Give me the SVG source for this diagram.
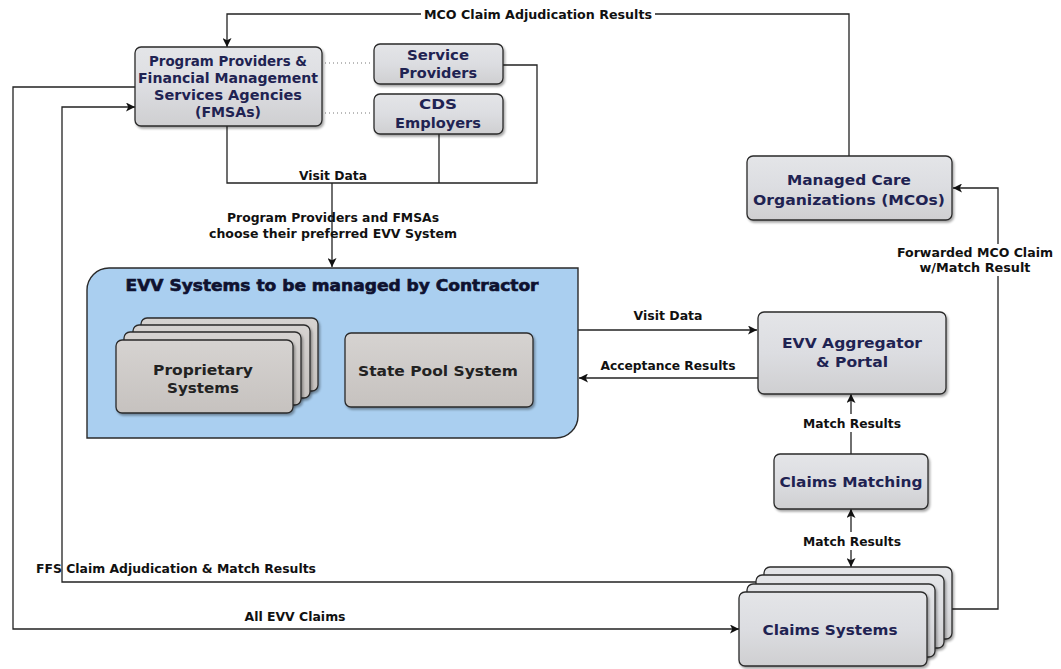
<svg xmlns="http://www.w3.org/2000/svg" width="1061" height="669" viewBox="0 0 1061 669">
<defs>
<linearGradient id="gNode" x1="0" y1="0" x2="0" y2="1">
<stop offset="0" stop-color="#e4e5e8"/>
<stop offset="0.5" stop-color="#dcdde1"/>
<stop offset="1" stop-color="#cfcfd1"/>
</linearGradient>
<linearGradient id="gInner" x1="0" y1="0" x2="0" y2="1">
<stop offset="0" stop-color="#d6d3d1"/>
<stop offset="1" stop-color="#c6c2bf"/>
</linearGradient>
<filter id="sh" x="-10%" y="-10%" width="125%" height="130%">
<feDropShadow dx="1.5" dy="2" stdDeviation="1.2" flood-color="#000" flood-opacity="0.35"/>
</filter>
<marker id="arr" viewBox="0 0 10 10" refX="10" refY="5" markerWidth="10" markerHeight="9" markerUnits="userSpaceOnUse" orient="auto-start-reverse">
<path d="M0,0 L10,5 L0,10 L2.5,5 Z" fill="#111"/>
</marker>
</defs>
<style>
.node{fill:url(#gNode);stroke:#2a2a2a;stroke-width:1.3;filter:url(#sh)}
.inner{fill:url(#gInner);stroke:#2a2a2a;stroke-width:1.3;filter:url(#sh)}
.nt{font-family:"DejaVu Sans","Liberation Sans",sans-serif;font-weight:bold;font-size:14px;fill:#1f2352;text-anchor:middle}
.it{font-family:"DejaVu Sans","Liberation Sans",sans-serif;font-weight:bold;font-size:14px;fill:#222;text-anchor:middle}
.lbl{font-family:"DejaVu Sans","Liberation Sans",sans-serif;font-weight:bold;font-size:12px;fill:#111;text-anchor:middle}
.ln{fill:none;stroke:#222;stroke-width:1.3}
.dot{fill:none;stroke:#777;stroke-width:1;stroke-dasharray:1,3}
.bg{fill:#fff}
</style>
<rect width="1061" height="669" fill="#fff"/>

<g id="connectors">
<path class="ln" d="M849,156 V14 H227 V47" marker-end="url(#arr)"/>
<rect class="bg" x="421" y="5" width="234" height="17"/>
<text class="lbl" x="538" y="19" textLength="228" lengthAdjust="spacingAndGlyphs">MCO Claim Adjudication Results</text>

<path class="ln" d="M135,87 H13 V629 H739" marker-end="url(#arr)"/>
<text class="lbl" x="295" y="621" textLength="101" lengthAdjust="spacingAndGlyphs">All EVV Claims</text>

<path class="ln" d="M756,582 H62 V107 H135" marker-end="url(#arr)"/>
<text class="lbl" x="176" y="573" textLength="280" lengthAdjust="spacingAndGlyphs">FFS Claim Adjudication &amp; Match Results</text>

<path class="dot" d="M325,63 H372 M325,113 H372"/>

<path class="ln" d="M227,126 V183 H537 V65 H503 M439,134 V183"/>
<path class="ln" d="M332,183 V267" marker-end="url(#arr)"/>
<text class="lbl" x="333" y="180" textLength="68" lengthAdjust="spacingAndGlyphs">Visit Data</text>
<text class="lbl" x="333" y="222" textLength="212" lengthAdjust="spacingAndGlyphs">Program Providers and FMSAs</text>
<text class="lbl" x="333" y="238" textLength="248" lengthAdjust="spacingAndGlyphs">choose their preferred EVV System</text>

<path class="ln" d="M578,330 H757" marker-end="url(#arr)"/>
<text class="lbl" x="668" y="320" textLength="69" lengthAdjust="spacingAndGlyphs">Visit Data</text>
<path class="ln" d="M758,378 H579" marker-end="url(#arr)"/>
<text class="lbl" x="668" y="370" textLength="135" lengthAdjust="spacingAndGlyphs">Acceptance Results</text>

<path class="ln" d="M851,454 V394" marker-end="url(#arr)"/>
<rect class="bg" x="801" y="414" width="102" height="18"/>
<text class="lbl" x="852" y="428" textLength="98" lengthAdjust="spacingAndGlyphs">Match Results</text>

<path class="ln" d="M851,509 V567" marker-start="url(#arr)" marker-end="url(#arr)"/>
<rect class="bg" x="801" y="532" width="102" height="18"/>
<text class="lbl" x="852" y="546" textLength="98" lengthAdjust="spacingAndGlyphs">Match Results</text>

<path class="ln" d="M952,609 H998 V188 H953" marker-end="url(#arr)"/>
<rect class="bg" x="895" y="244" width="160" height="32"/>
<text class="lbl" x="975" y="257" textLength="156" lengthAdjust="spacingAndGlyphs">Forwarded MCO Claim</text>
<text class="lbl" x="975" y="272" textLength="111" lengthAdjust="spacingAndGlyphs">w/Match Result</text>
</g>

<g id="program-providers">
<rect class="node" x="135" y="47" width="187" height="79" rx="6"/>
<text class="nt" x="228" y="66" textLength="158" lengthAdjust="spacingAndGlyphs">Program Providers &amp;</text>
<text class="nt" x="228" y="83" textLength="180" lengthAdjust="spacingAndGlyphs">Financial Management</text>
<text class="nt" x="228" y="100" textLength="148" lengthAdjust="spacingAndGlyphs">Services Agencies</text>
<text class="nt" x="228" y="117" textLength="66" lengthAdjust="spacingAndGlyphs">(FMSAs)</text>
</g>

<g id="service-providers">
<rect class="node" x="374" y="44" width="129" height="40" rx="6"/>
<text class="nt" x="438" y="60" textLength="62" lengthAdjust="spacingAndGlyphs">Service</text>
<text class="nt" x="438" y="78" textLength="78" lengthAdjust="spacingAndGlyphs">Providers</text>
</g>

<g id="cds-employers">
<rect class="node" x="374" y="94" width="129" height="40" rx="6"/>
<text class="nt" x="438" y="109" textLength="38" lengthAdjust="spacingAndGlyphs">CDS</text>
<text class="nt" x="438" y="128" textLength="86" lengthAdjust="spacingAndGlyphs">Employers</text>
</g>

<g id="mco">
<rect class="node" x="747" y="156" width="205" height="64" rx="6"/>
<text class="nt" x="849" y="185" textLength="124" lengthAdjust="spacingAndGlyphs">Managed Care</text>
<text class="nt" x="849" y="205" textLength="192" lengthAdjust="spacingAndGlyphs">Organizations (MCOs)</text>
</g>

<g id="evv-systems">
<path d="M87,290 A22,22 0 0 1 109,268 H578 V416 A22,22 0 0 1 556,438 H87 Z" fill="#aacff0" stroke="#2a2a2a" stroke-width="1.4"/>
<text x="332" y="291" font-family="DejaVu Sans,sans-serif" font-weight="900" font-size="15" fill="#0f1230" text-anchor="middle" textLength="413" lengthAdjust="spacingAndGlyphs" stroke="#0f1230" stroke-width="0.6">EVV Systems to be managed by Contractor</text>
</g>

<g id="proprietary-systems">
<rect class="inner" x="141" y="318" width="177" height="73" rx="6"/>
<rect class="inner" x="133" y="325" width="177" height="73" rx="6"/>
<rect class="inner" x="124" y="332" width="177" height="73" rx="6"/>
<rect class="inner" x="116" y="340" width="177" height="73" rx="6"/>
<text class="it" x="203" y="375" textLength="100" lengthAdjust="spacingAndGlyphs">Proprietary</text>
<text class="it" x="203" y="393" textLength="72" lengthAdjust="spacingAndGlyphs">Systems</text>
</g>

<g id="state-pool">
<rect class="inner" x="345" y="333" width="188" height="74" rx="6"/>
<text class="it" x="438" y="376" textLength="160" lengthAdjust="spacingAndGlyphs">State Pool System</text>
</g>

<g id="evv-aggregator">
<rect class="node" x="758" y="312" width="188" height="82" rx="6"/>
<text class="nt" x="852" y="348" textLength="140" lengthAdjust="spacingAndGlyphs">EVV Aggregator</text>
<text class="nt" x="852" y="367" textLength="72" lengthAdjust="spacingAndGlyphs">&amp; Portal</text>
</g>

<g id="claims-matching">
<rect class="node" x="774" y="454" width="154" height="55" rx="6"/>
<text class="nt" x="851" y="487" textLength="143" lengthAdjust="spacingAndGlyphs">Claims Matching</text>
</g>

<g id="claims-systems">
<rect class="node" x="764" y="567" width="188" height="72" rx="6"/>
<rect class="node" x="756" y="575" width="188" height="73" rx="6"/>
<rect class="node" x="747" y="584" width="188" height="73" rx="6"/>
<rect class="node" x="739" y="592" width="188" height="74" rx="6"/>
<text class="nt" x="830" y="635" textLength="135" lengthAdjust="spacingAndGlyphs">Claims Systems</text>
</g>
</svg>
